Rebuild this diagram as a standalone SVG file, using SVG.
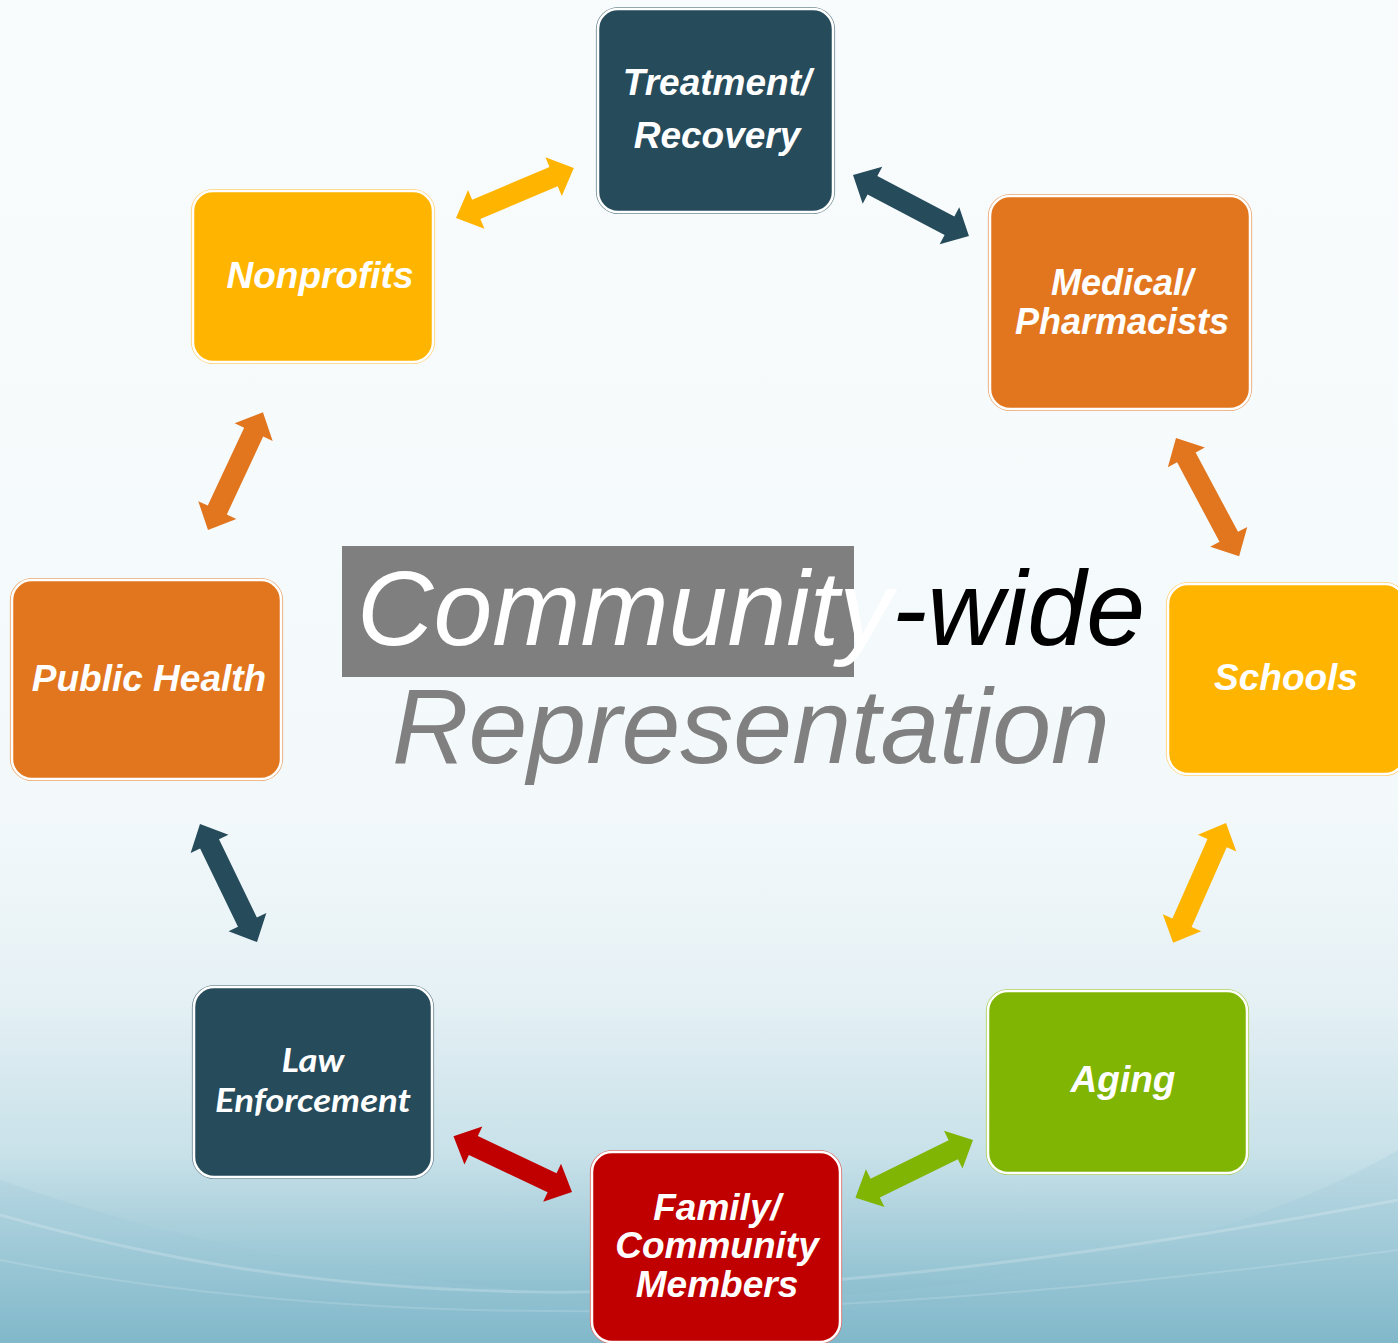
<svg xmlns="http://www.w3.org/2000/svg" width="1398" height="1343" viewBox="0 0 1398 1343">
<defs>
<linearGradient id="bg" x1="0" y1="0" x2="0" y2="1">
<stop offset="0" stop-color="#f9fcfd"/>
<stop offset="0.6" stop-color="#f3f9fb"/>
<stop offset="0.74" stop-color="#e6f1f5"/>
<stop offset="0.86" stop-color="#c8e1e9"/>
<stop offset="1" stop-color="#78b3c6"/>
</linearGradient>
<style>
.lbl{font-family:"Liberation Sans",Arial,sans-serif;font-weight:bold;font-style:italic;fill:#ffffff;text-anchor:middle;}
.lbl2{font-family:Lato,"Open Sans",sans-serif;font-weight:bold;font-style:italic;fill:#ffffff;text-anchor:middle;}
.box{stroke:#ffffff;stroke-width:2.5;}
.ring{fill:none;stroke-width:1.2;}
.title{font-family:"Liberation Sans",Arial,sans-serif;font-style:italic;font-size:106px;}
</style>
</defs>
<rect x="0" y="0" width="1398" height="1343" fill="url(#bg)"/>
<path d="M0,1180 C250,1270 600,1320 900,1290 C1100,1270 1280,1220 1398,1150 L1398,1343 L0,1343 Z" fill="#9cc9d7" opacity="0.25"/>
<path d="M0,1215 C300,1300 650,1340 1398,1200" fill="none" stroke="#ffffff" stroke-width="3" opacity="0.2"/>
<path d="M0,1260 C350,1330 800,1330 1398,1250" fill="none" stroke="#ffffff" stroke-width="2" opacity="0.15"/>

<g id="title">
<rect x="342" y="546" width="512" height="131" fill="#7f7f7f"/>
<text class="title" x="357" y="645" textLength="788" lengthAdjust="spacingAndGlyphs"><tspan fill="#ffffff">Community</tspan><tspan fill="#000000">-wide</tspan></text>
<text class="title" x="392" y="763" fill="#808080" textLength="718" lengthAdjust="spacingAndGlyphs">Representation</text>
</g>

<g id="connectors">
<polygon transform="translate(456,218) rotate(-22.96)" fill="#ffb500" points="0,0 22,-21 22,-10.5 106,-10.5 106,-21 128,0 106,21 106,10.5 22,10.5 22,21"/>
<polygon transform="translate(853,175) rotate(27.74)" fill="#264b5b" points="0,0 22,-21 22,-10.5 109,-10.5 109,-21 131,0 109,21 109,10.5 22,10.5 22,21"/>
<polygon transform="translate(1176,438) rotate(61.9)" fill="#e2761f" points="0,0 22,-21 22,-10.5 112,-10.5 112,-21 134,0 112,21 112,10.5 22,10.5 22,21"/>
<polygon transform="translate(1226,823) rotate(113.8)" fill="#ffb500" points="0,0 22,-21 22,-10.5 109,-10.5 109,-21 131,0 109,21 109,10.5 22,10.5 22,21"/>
<polygon transform="translate(973,1140) rotate(153.83)" fill="#80b504" points="0,0 22,-21 22,-10.5 109,-10.5 109,-21 131,0 109,21 109,10.5 22,10.5 22,21"/>
<polygon transform="translate(572,1192) rotate(-154.8)" fill="#c00000" points="0,0 22,-21 22,-10.5 109,-10.5 109,-21 131,0 109,21 109,10.5 22,10.5 22,21"/>
<polygon transform="translate(257,942) rotate(-115.8)" fill="#264b5b" points="0,0 22,-21 22,-10.5 109,-10.5 109,-21 131,0 109,21 109,10.5 22,10.5 22,21"/>
<polygon transform="translate(208,530) rotate(-65)" fill="#e2761f" points="0,0 22,-21 22,-10.5 108,-10.5 108,-21 130,0 108,21 108,10.5 22,10.5 22,21"/>
</g>

<g id="treatment">
<rect class="ring" x="596.5" y="7.5" width="238" height="206" rx="22" stroke="#6f8a95"/>
<rect class="box" x="598" y="9" width="235" height="203" rx="20" fill="#264b5b"/>
<text class="lbl" x="717" y="95" font-size="37">Treatment/</text>
<text class="lbl" x="717" y="148" font-size="37">Recovery</text>
</g>

<g id="medical">
<rect class="ring" x="988.5" y="194.5" width="263" height="216" rx="22" stroke="#eba46b"/>
<rect class="box" x="990" y="196" width="260" height="213" rx="20" fill="#e2761f"/>
<text class="lbl" x="1122" y="295" font-size="36">Medical/</text>
<text class="lbl" x="1122" y="334" font-size="36">Pharmacists</text>
</g>

<g id="nonprofits">
<rect class="ring" x="191.5" y="189.5" width="243" height="174" rx="22" stroke="#ffd070"/>
<rect class="box" x="193" y="191" width="240" height="171" rx="20" fill="#ffb500"/>
<text class="lbl" x="320" y="288" font-size="37">Nonprofits</text>
</g>

<g id="publichealth">
<rect class="ring" x="10.5" y="578.5" width="272" height="202" rx="22" stroke="#eba46b"/>
<rect class="box" x="12" y="580" width="269" height="199" rx="20" fill="#e2761f"/>
<text class="lbl" x="149" y="691" font-size="37">Public Health</text>
</g>

<g id="schools">
<rect class="ring" x="1166.5" y="582.5" width="240" height="193" rx="22" stroke="#ffd070"/>
<rect class="box" x="1168" y="584" width="237" height="190" rx="20" fill="#ffb500"/>
<text class="lbl" x="1286" y="690" font-size="37">Schools</text>
</g>

<g id="aging">
<rect class="ring" x="986.5" y="989.5" width="262" height="185" rx="22" stroke="#a9cf55"/>
<rect class="box" x="988" y="991" width="259" height="182" rx="20" fill="#80b504"/>
<text class="lbl" x="1123" y="1092" font-size="37">Aging</text>
</g>

<g id="law">
<rect class="ring" x="192.5" y="985.5" width="241" height="193" rx="22" stroke="#6f8a95"/>
<rect class="box" x="194" y="987" width="238" height="190" rx="20" fill="#264b5b"/>
<text class="lbl2" x="313" y="1072" font-size="33" textLength="63" lengthAdjust="spacingAndGlyphs">Law</text>
<text class="lbl2" x="313" y="1112" font-size="33" textLength="196" lengthAdjust="spacingAndGlyphs">Enforcement</text>
</g>

<g id="family">
<rect class="ring" x="590.5" y="1150.5" width="251" height="193" rx="22" stroke="#dc6b6b"/>
<rect class="box" x="592" y="1152" width="248" height="190" rx="20" fill="#c00000"/>
<text class="lbl" x="717" y="1220" font-size="37">Family/</text>
<text class="lbl" x="717" y="1258" font-size="37">Community</text>
<text class="lbl" x="717" y="1297" font-size="37">Members</text>
</g>
</svg>
